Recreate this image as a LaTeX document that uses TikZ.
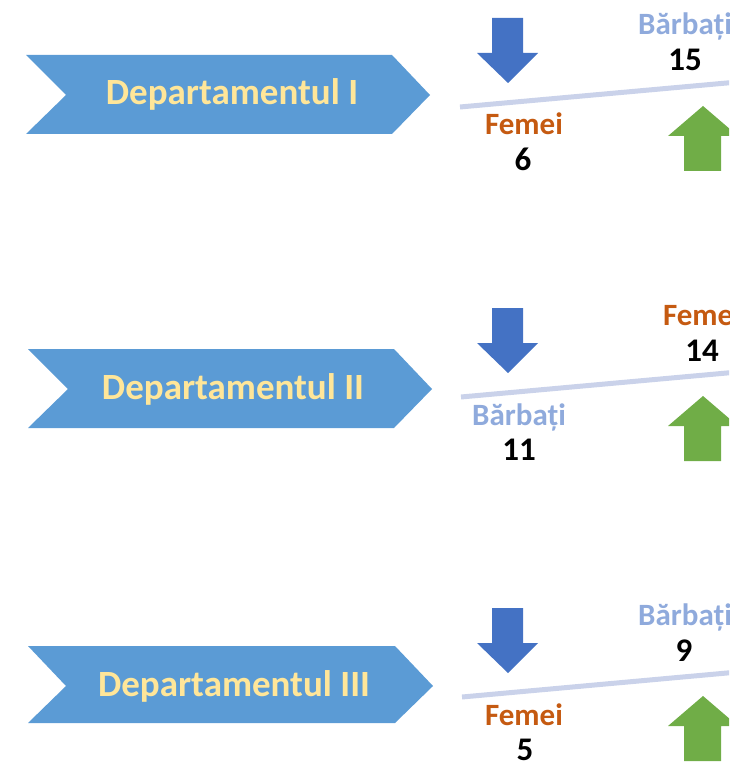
\documentclass[tikz,border=0pt]{standalone}
\usepackage{fontspec}
\setmainfont{Carlito}
\definecolor{chevblue}{HTML}{5B9BD5}
\definecolor{chevtext}{HTML}{FFE699}
\definecolor{downblue}{HTML}{4472C4}
\definecolor{upgreen}{HTML}{70AD47}
\definecolor{beam}{HTML}{CAD2EA}
\definecolor{femcol}{HTML}{C55A11}
\definecolor{barcol}{HTML}{8FAADC}
\tikzset{
  chevshape/.style={fill=chevblue, draw=none},
  dtext/.style={text=chevtext, font=\fontsize{37}{41}\selectfont\bfseries, anchor=base, inner sep=0pt},
  downarr/.style={fill=downblue, draw=none},
  uparr/.style={fill=upgreen, draw=none},
  beamline/.style={draw=beam, line width=5pt},
  femlbl/.style={text=femcol, font=\fontsize{31}{35}\selectfont\bfseries, anchor=base, inner sep=0pt},
  barlbl/.style={text=barcol, font=\fontsize{31}{35}\selectfont\bfseries, anchor=base, inner sep=0pt},
  numlbl/.style={text=black, font=\fontsize{33}{37}\selectfont\bfseries, anchor=base, inner sep=0pt}
}
\begin{document}
\begin{tikzpicture}[x=1pt,y=-1pt]
\useasboundingbox (0,0) rectangle (729,762);
\clip (0,0) rectangle (729,762);
% ---------- Row 1 ----------
\begin{scope}
  \fill[chevshape] (26,55) -- (392,55) -- (430,95) -- (392,134) -- (26,134) -- (66,95) -- cycle;
  \node[dtext] (d1) at (232,105) {Departamentul I};
  \fill[downarr] (492,18) -- (523,18) -- (523,53) -- (538,53) -- (508,83) -- (477,53) -- (492,53) -- cycle;
  \draw[beamline] (460,107) -- (760,80);
  \fill[uparr] (703,106) -- (738,136) -- (721,136) -- (721,171) -- (684,171) -- (684,136) -- (668,136) -- cycle;
  \node[femlbl] (l1b) at (524,135) {Femei};
  \node[numlbl] (n1b) at (523,171) {6};
  \node[barlbl] (l1t) at (685,35) {Bărbați};
  \node[numlbl] (n1t) at (685,71) {15};
\end{scope}
% ---------- Row 2 ----------
\begin{scope}[shift={(0,290)}]
  \fill[chevshape] (28,59) -- (394,59) -- (432,99) -- (394,138) -- (28,138) -- (68,99) -- cycle;
  \node[dtext] (d2) at (233,109) {Departamentul II};
  \fill[downarr] (492,18) -- (523,18) -- (523,53) -- (538,53) -- (508,83) -- (477,53) -- (492,53) -- cycle;
  \draw[beamline] (461,107) -- (760,80);
  \fill[uparr] (703,106) -- (738,136) -- (721,136) -- (721,171) -- (684,171) -- (684,136) -- (668,136) -- cycle;
  \node[barlbl] (l2b) at (519,135) {Bărbați};
  \node[numlbl] (n2b) at (519,170) {11};
  \node[femlbl] (l2t) at (702,35) {Femei};
  \node[numlbl] (n2t) at (702,71) {14};
\end{scope}
% ---------- Row 3 ----------
\begin{scope}[shift={(0,590)}]
  \fill[chevshape] (28,56) -- (395,56) -- (433,96) -- (395,133) -- (28,133) -- (66,96) -- cycle;
  \node[dtext] (d3) at (234,106) {Departamentul III};
  \fill[downarr] (492,18) -- (523,18) -- (523,53) -- (538,53) -- (508,83) -- (477,53) -- (492,53) -- cycle;
  \draw[beamline] (462,107) -- (760,80);
  \fill[uparr] (703,106) -- (738,136) -- (721,136) -- (721,171) -- (684,171) -- (684,136) -- (668,136) -- cycle;
  \node[femlbl] (l3b) at (524,135) {Femei};
  \node[numlbl] (n3b) at (525,170) {5};
  \node[barlbl] (l3t) at (685,35) {Bărbați};
  \node[numlbl] (n3t) at (684,71) {9};
\end{scope}
\end{tikzpicture}
\end{document}
